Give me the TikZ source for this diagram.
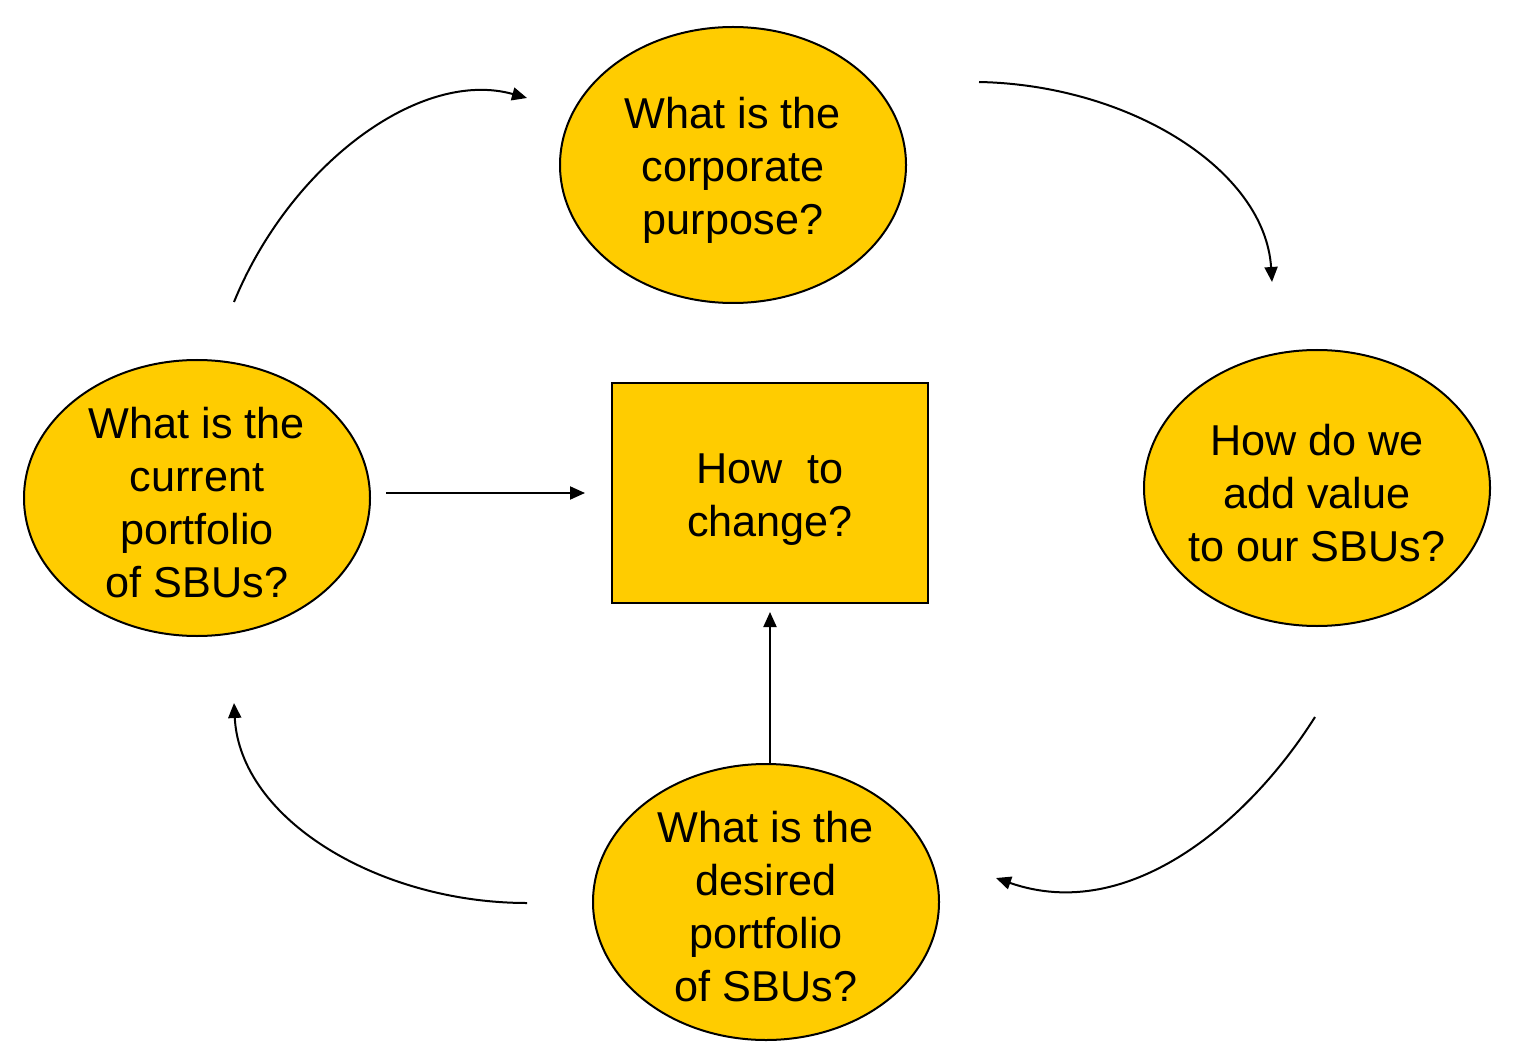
\documentclass[tikz,border=0pt]{standalone}
\usepackage{fontspec}
\setmainfont{Liberation Sans}
\usetikzlibrary{shapes.geometric,arrows.meta}
\definecolor{gold}{RGB}{255,204,0}
\tikzset{
	question/.style={ellipse, draw, fill=gold, line width=1pt, minimum width=173pt, minimum height=138pt, inner sep=0pt},
	qtext/.style={align=center, inner sep=0pt, yshift=-2.5pt, font=\fontsize{21.6}{26.5}\selectfont},
	flow/.style={line width=1pt, -{Triangle[length=7.5pt,width=6.5pt]}}
}

\begin{document}
\begin{tikzpicture}[x=0.5pt,y=-0.5pt]
				\useasboundingbox (0,0) rectangle (1519,1053);
				
				\node[question, label={[qtext]center:{What is the\\corporate\\purpose?}}] (top) at (733,165) {};
				\node[question, label={[qtext]center:{What is the\\current\\portfolio\\of SBUs?}}] (left) at (197,498) {};
				\node[question, label={[qtext]center:{How do we\\add value\\to our SBUs?}}] (right) at (1317,488) {};
				\node[question, label={[qtext]center:{What is the\\desired\\portfolio\\of SBUs?}}] (bottom) at (766,902) {};
				
				\node[draw, fill=gold, line width=1pt, minimum width=158pt, minimum height=110pt, label={[qtext,yshift=-1pt]center:{How~~to\\change?}}] (change) at (770,493) {};
				
				% loose ends of the round arrows
				\coordinate (a1) at (234,302);
				\coordinate (a2) at (527,98);
				\coordinate (b1) at (979,82);
				\coordinate (b2) at (1272,282);
				\coordinate (c1) at (1315,717);
				\coordinate (c2) at (996,878);
				\coordinate (d1) at (527,903);
				\coordinate (d2) at (234,703);
				
				\draw[flow] (a1) .. controls (290,165) and (420,68) .. (a2);
				\draw[flow] (b1) .. controls (1130,85) and (1265,170) .. (b2);
				\draw[flow] (c1) .. controls (1250,820) and (1130,925) .. (c2);
				\draw[flow] (d1) .. controls (380,903) and (240,820) .. (d2);
				
				\draw[flow, shorten <=7.5pt, shorten >=13pt] (left.east |- change.west) -- (change.west);
				\draw[flow, shorten >=4pt] (bottom.north -| change.south) -- (change.south);
			\end{tikzpicture}
\end{document}
